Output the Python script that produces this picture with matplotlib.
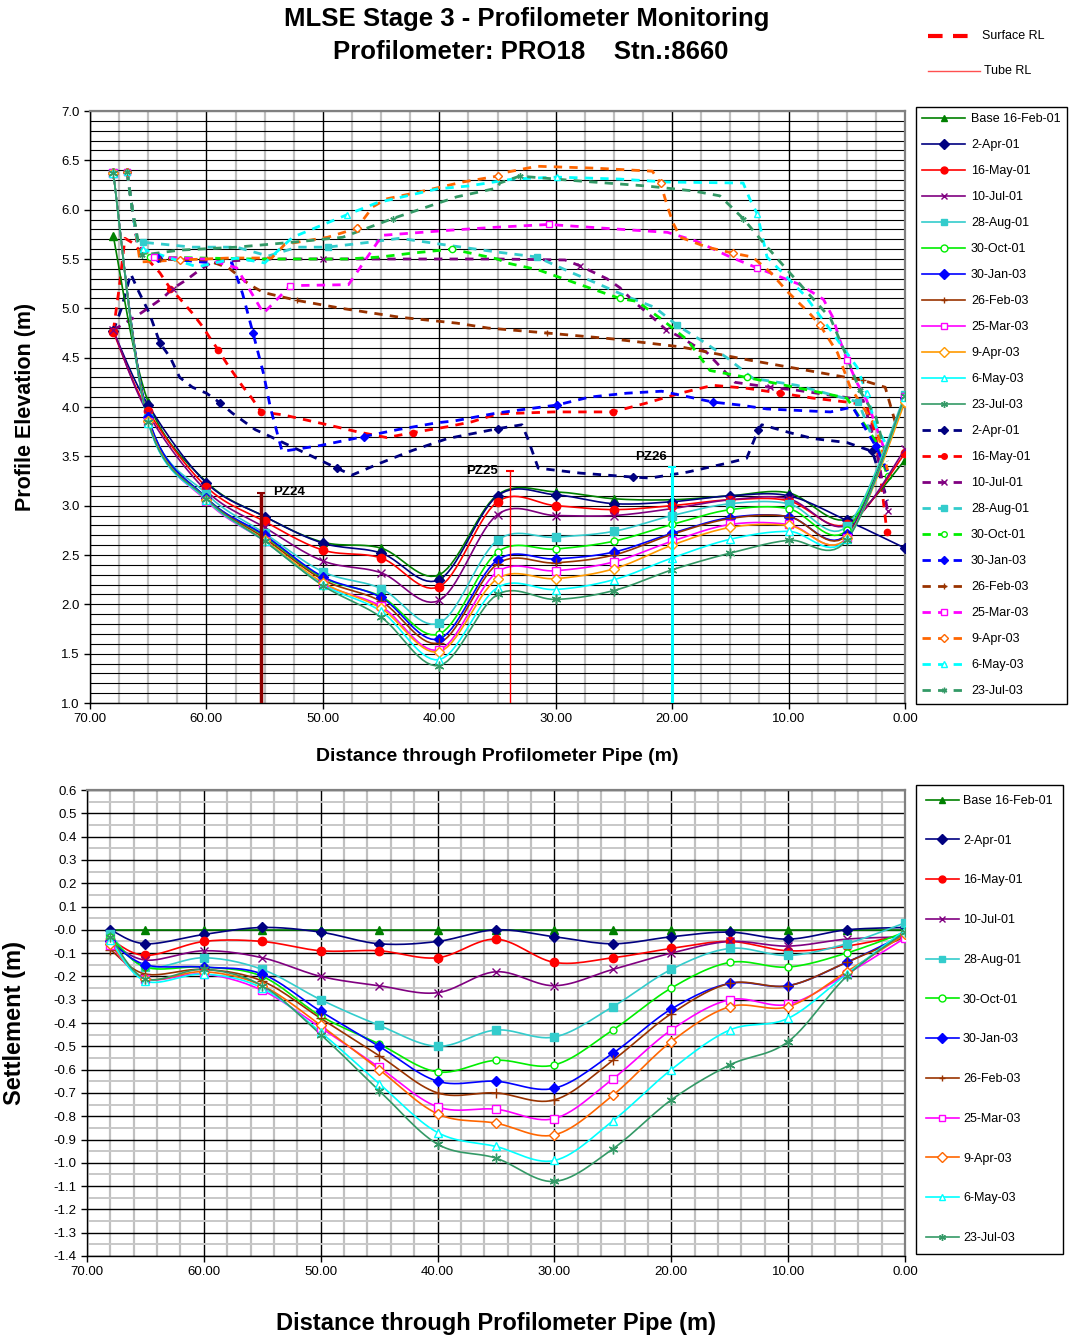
import numpy as np
import matplotlib
matplotlib.use("Agg")
import matplotlib.pyplot as plt
from matplotlib.lines import Line2D
from matplotlib.ticker import MultipleLocator, FormatStrFormatter

plt.rcParams["font.family"] = ["Liberation Sans", "DejaVu Sans"]
plt.rcParams["axes.unicode_minus"] = False

# --- data -------------------------------------------------------------------
dates = ["Base 16-Feb-01", "2-Apr-01", "16-May-01", "10-Jul-01", "28-Aug-01",
         "30-Oct-01", "30-Jan-03", "26-Feb-03", "25-Mar-03", "9-Apr-03",
         "6-May-03", "23-Jul-03"]

dist_pts = [68, 65, 60, 55, 50, 45, 40, 35, 30, 25, 20, 15, 10, 5, 0]

# Tube RL (m)
tube_feb01 = [5.73, 4.05, 3.24, 2.89, 2.63, 2.57, 2.30, 3.11, 3.14, 3.07, 3.06, 3.10, 3.13, 2.86, 3.46]
tube_apr01 = [4.77, 4.02, 3.23, 2.89, 2.62, 2.52, 2.25, 3.10, 3.11, 3.02, 3.04, 3.10, 3.10, 2.85, 2.57]
tube_may01 = [4.76, 3.96, 3.19, 2.84, 2.55, 2.47, 2.18, 3.04, 3.00, 2.96, 3.00, 3.06, 3.05, 2.81, 3.53]
tube_jul01 = [4.78, 3.93, 3.15, 2.78, 2.44, 2.32, 2.04, 2.91, 2.90, 2.90, 2.97, 3.06, 3.07, 2.80, 3.57]
tube_aug01 = [6.37, 3.89, 3.12, 2.72, 2.33, 2.16, 1.81, 2.65, 2.68, 2.74, 2.90, 3.02, 3.02, 2.79, 4.12]
tube_oct01 = [6.37, 3.89, 3.08, 2.69, 2.27, 2.08, 1.70, 2.53, 2.56, 2.64, 2.81, 2.96, 2.97, 2.75, 4.08]
tube_jan03 = [6.37, 3.90, 3.08, 2.70, 2.28, 2.07, 1.65, 2.45, 2.46, 2.53, 2.72, 2.88, 2.89, 2.71, 4.09]
tube_feb03 = [6.37, 3.86, 3.07, 2.67, 2.25, 2.03, 1.61, 2.41, 2.42, 2.50, 2.71, 2.87, 2.89, 2.70, 4.07]
tube_mar03 = [6.37, 3.85, 3.05, 2.64, 2.21, 1.98, 1.54, 2.33, 2.34, 2.43, 2.64, 2.81, 2.81, 2.67, 4.10]
tube_apr03 = [6.37, 3.86, 3.06, 2.65, 2.22, 1.96, 1.52, 2.26, 2.26, 2.36, 2.60, 2.78, 2.80, 2.67, 4.05]
tube_may03 = [6.37, 3.84, 3.06, 2.64, 2.20, 1.93, 1.44, 2.17, 2.15, 2.25, 2.47, 2.66, 2.74, 2.66, 4.10]
tube_jul03 = [6.37, 3.85, 3.07, 2.64, 2.19, 1.87, 1.38, 2.10, 2.05, 2.14, 2.35, 2.52, 2.65, 2.65, 4.11]

# Settlement (m)
settle_feb01 = [0.0, 0.0, 0.0, 0.0, 0.0, 0.0, 0.0, 0.0, 0.0, 0.0, 0.0, 0.0, 0.0, 0.0, 0.0]
settle_apr01 = [0.00, -0.06, -0.02, 0.01, -0.01, -0.06, -0.05, 0.00, -0.03, -0.06, -0.03, -0.01, -0.04, 0.00, 0.01]
settle_may01 = [-0.04, -0.11, -0.05, -0.05, -0.09, -0.09, -0.12, -0.04, -0.14, -0.12, -0.08, -0.05, -0.09, -0.07, -0.02]
settle_jul01 = [-0.05, -0.13, -0.09, -0.12, -0.20, -0.24, -0.27, -0.18, -0.24, -0.17, -0.10, -0.05, -0.07, -0.04, -0.03]
settle_aug01 = [-0.02, -0.16, -0.12, -0.17, -0.30, -0.41, -0.50, -0.43, -0.46, -0.33, -0.17, -0.08, -0.11, -0.06, 0.03]
settle_oct01 = [-0.03, -0.16, -0.16, -0.20, -0.37, -0.49, -0.61, -0.56, -0.58, -0.43, -0.25, -0.14, -0.16, -0.10, -0.01]
settle_jan03 = [-0.05, -0.15, -0.16, -0.19, -0.35, -0.50, -0.65, -0.65, -0.68, -0.53, -0.34, -0.23, -0.24, -0.14, -0.02]
settle_feb03 = [-0.085, -0.19, -0.17, -0.22, -0.38, -0.54, -0.70, -0.70, -0.73, -0.56, -0.36, -0.23, -0.24, -0.14, -0.03]
settle_mar03 = [-0.065, -0.21, -0.19, -0.26, -0.42, -0.59, -0.76, -0.77, -0.81, -0.64, -0.43, -0.30, -0.32, -0.19, -0.035]
settle_apr03 = [-0.06, -0.21, -0.18, -0.24, -0.41, -0.60, -0.79, -0.83, -0.88, -0.71, -0.48, -0.33, -0.33, -0.18, -0.02]
settle_may03 = [-0.045, -0.22, -0.19, -0.25, -0.44, -0.66, -0.87, -0.93, -0.99, -0.82, -0.60, -0.43, -0.38, -0.19, 0.00]
settle_jul03 = [-0.03, -0.21, -0.17, -0.24, -0.45, -0.69, -0.92, -0.98, -1.08, -0.94, -0.73, -0.58, -0.48, -0.20, -0.01]

# Surface RL (m) - distance / elevation per survey
surf_apr01_x = [68.0, 67.3, 66.5, 65.9, 64.9, 64.0, 63.1, 62.3, 61.2, 60.0, 58.8, 57.8, 55.8, 54.5, 51.1, 48.8, 47.5, 45.1, 42.3, 39.3, 35.0, 32.9, 32.4, 31.5, 27.9, 23.4, 21.9, 18.7, 15.3, 13.6, 12.6, 12.3, 9.9, 7.9, 5.0, 2.8, 1.5]
surf_apr01_y = [4.77, 5.00, 5.35, 5.19, 4.95, 4.65, 4.50, 4.30, 4.20, 4.14, 4.04, 3.94, 3.77, 3.70, 3.51, 3.38, 3.31, 3.43, 3.56, 3.68, 3.78, 3.82, 3.68, 3.38, 3.33, 3.29, 3.28, 3.34, 3.43, 3.48, 3.77, 3.82, 3.74, 3.68, 3.64, 3.55, 3.05]
surf_may01_x = [68.0, 67.5, 67.0, 66.3, 64.0, 63.1, 62.3, 61.2, 60.3, 59.7, 59.0, 58.3, 57.6, 56.9, 56.1, 55.3, 53.4, 49.6, 47.1, 44.5, 42.3, 39.3, 37.2, 35.0, 30.2, 25.1, 22.2, 19.3, 16.5, 13.6, 10.7, 7.9, 5.0, 3.3, 2.5, 1.55]
surf_may01_y = [4.77, 5.20, 5.71, 5.66, 5.36, 5.20, 5.10, 4.95, 4.81, 4.70, 4.58, 4.45, 4.33, 4.21, 4.09, 3.95, 3.92, 3.82, 3.75, 3.69, 3.74, 3.80, 3.85, 3.93, 3.95, 3.95, 4.04, 4.14, 4.22, 4.19, 4.14, 4.09, 4.05, 4.02, 3.70, 2.73]
surf_jul01_x = [68.0, 67.0, 65.9, 64.9, 63.7, 62.9, 61.7, 60.8, 59.5, 55.0, 50.0, 45.0, 40.0, 35.0, 29.2, 27.9, 25.6, 24.5, 23.4, 21.7, 20.5, 19.3, 18.2, 17.0, 14.6, 11.6, 9.3, 6.4, 3.6, 2.5, 1.5]
surf_jul01_y = [4.78, 4.85, 4.93, 5.01, 5.11, 5.20, 5.29, 5.37, 5.47, 5.50, 5.50, 5.50, 5.50, 5.50, 5.49, 5.43, 5.30, 5.21, 5.08, 4.91, 4.78, 4.71, 4.63, 4.55, 4.25, 4.20, 4.17, 4.12, 4.07, 3.60, 2.95]
surf_aug01_x = [66.8, 66.6, 66.3, 66.1, 65.9, 65.45, 61.2, 57.4, 54.7, 52.2, 49.6, 46.0, 43.4, 39.3, 35.0, 31.6, 28.8, 26.2, 23.9, 21.5, 19.6, 17.3, 15.3, 13.05, 9.3, 4.0, 2.5, 1.5]
surf_aug01_y = [6.38, 6.20, 5.95, 5.80, 5.68, 5.67, 5.62, 5.62, 5.53, 5.62, 5.62, 5.67, 5.71, 5.64, 5.57, 5.52, 5.37, 5.24, 5.12, 5.01, 4.83, 4.66, 4.50, 4.29, 4.22, 4.05, 3.60, 3.35]
surf_oct01_x = [66.8, 66.6, 66.3, 66.1, 65.9, 64.85, 56.0, 47.9, 45.1, 42.3, 38.9, 35.0, 34.2, 31.5, 27.9, 24.5, 23.0, 20.8, 18.7, 16.75, 13.6, 10.3, 7.0, 5.0, 2.5, 1.5]
surf_oct01_y = [6.38, 6.20, 5.95, 5.80, 5.66, 5.52, 5.50, 5.50, 5.52, 5.56, 5.60, 5.50, 5.46, 5.39, 5.24, 5.10, 5.07, 4.88, 4.68, 4.37, 4.30, 4.22, 4.14, 4.09, 3.65, 3.30]
surf_jan03_x = [66.8, 66.6, 66.3, 66.1, 65.9, 64.2, 62.3, 59.5, 57.8, 56.9, 56.0, 55.1, 54.5, 53.5, 50.2, 46.5, 43.6, 40.2, 38.65, 35.0, 29.9, 27.1, 23.9, 20.9, 19.3, 16.5, 14.2, 11.85, 6.4, 4.5, 2.5, 1.5]
surf_jan03_y = [6.38, 6.20, 5.95, 5.80, 5.62, 5.51, 5.49, 5.46, 5.46, 5.15, 4.75, 4.34, 3.99, 3.55, 3.61, 3.70, 3.77, 3.84, 3.86, 3.94, 4.02, 4.10, 4.14, 4.16, 4.12, 4.05, 4.02, 3.98, 3.95, 4.00, 3.60, 3.35]
surf_feb03_x = [66.8, 66.6, 66.3, 66.1, 65.9, 64.0, 60.0, 58.1, 56.3, 55.1, 52.2, 48.4, 43.4, 38.5, 35.8, 30.75, 25.1, 19.3, 13.6, 9.3, 3.6, 1.7, 0.7]
surf_feb03_y = [6.38, 6.20, 5.95, 5.80, 5.62, 5.50, 5.49, 5.41, 5.24, 5.16, 5.08, 5.00, 4.91, 4.85, 4.80, 4.75, 4.69, 4.61, 4.48, 4.39, 4.27, 4.20, 3.79]
surf_mar03_x = [66.8, 66.6, 66.3, 66.1, 65.9, 64.5, 60.0, 57.4, 55.1, 53.7, 52.8, 47.8, 44.9, 39.3, 35.4, 30.6, 25.6, 20.4, 17.9, 15.0, 12.7, 9.0, 7.0, 6.2, 5.6, 5.0, 4.1, 3.3, 1.8]
surf_mar03_y = [6.38, 6.20, 5.95, 5.80, 5.64, 5.52, 5.50, 5.41, 4.95, 5.12, 5.23, 5.24, 5.74, 5.79, 5.82, 5.85, 5.81, 5.77, 5.68, 5.52, 5.41, 5.24, 5.09, 4.91, 4.68, 4.48, 4.24, 4.07, 3.58]
surf_apr03_x = [66.8, 66.6, 66.3, 66.1, 65.7, 62.3, 58.0, 54.4, 53.25, 49.6, 47.1, 45.7, 44.5, 41.7, 38.0, 35.0, 34.2, 31.6, 26.5, 21.7, 21.0, 20.4, 19.9, 19.3, 17.0, 14.8, 13.1, 11.6, 10.1, 8.2, 7.3, 5.8, 4.7, 2.5, 1.5]
surf_apr03_y = [6.38, 6.20, 5.95, 5.80, 5.47, 5.49, 5.51, 5.51, 5.65, 5.72, 5.81, 6.03, 6.11, 6.18, 6.28, 6.34, 6.38, 6.44, 6.42, 6.39, 6.27, 6.03, 5.86, 5.72, 5.62, 5.56, 5.52, 5.37, 5.17, 4.95, 4.83, 4.55, 4.20, 3.80, 3.36]
surf_may03_x = [66.8, 66.6, 66.3, 66.1, 65.9, 65.45, 60.8, 57.4, 55.0, 52.6, 47.9, 45.35, 40.2, 37.5, 33.7, 29.9, 24.5, 20.5, 13.9, 13.3, 12.7, 11.85, 8.6, 6.4, 4.1, 3.3, 2.5, 1.5]
surf_may03_y = [6.38, 6.20, 5.95, 5.80, 5.68, 5.60, 5.42, 5.51, 5.46, 5.72, 5.95, 6.07, 6.21, 6.24, 6.31, 6.33, 6.31, 6.28, 6.27, 6.10, 5.96, 5.52, 5.13, 4.78, 4.40, 4.14, 3.80, 3.60]
surf_jul03_x = [66.8, 66.6, 66.3, 66.1, 65.9, 65.5, 62.3, 57.4, 52.6, 48.3, 44.0, 40.5, 38.5, 35.0, 34.8, 33.1, 27.9, 22.2, 18.2, 15.9, 13.9, 12.2, 9.9, 6.4, 5.0, 3.9, 2.5, 1.5]
surf_jul03_y = [6.38, 6.20, 5.95, 5.84, 5.70, 5.54, 5.59, 5.62, 5.67, 5.72, 5.91, 6.05, 6.13, 6.22, 6.27, 6.34, 6.29, 6.24, 6.19, 6.14, 5.91, 5.67, 5.36, 4.90, 4.51, 4.17, 3.90, 3.45]

# piezometers
pz_names = ["PZ24", "PZ25", "PZ26"]
pz_dist = [55.3, 33.9, 20.0]
pz_top = [3.13, 3.35, 3.39]

# --- styles -----------------------------------------------------------------
colors = ["#008000", "#000080", "#FF0000", "#800080", "#33CCCC", "#00EE00",
          "#0000FF", "#993300", "#FF00FF", "#FF9900", "#00FFFF", "#339966"]
surf_colors = colors[1:9] + ["#FF6600"] + colors[10:]
low_colors = colors[:9] + ["#FF6600"] + colors[10:]
markers = ["^", "D", "o", "x", "s", "o", "D", "+", "s", "D", "^", (6, 2, 0)]
filled = [True, True, True, False, True, False, True, False, False, False, False, False]
msizes = [6, 5, 6, 6, 6, 5, 5, 7, 6, 5, 6, 7]

tubes = [tube_feb01, tube_apr01, tube_may01, tube_jul01, tube_aug01, tube_oct01,
         tube_jan03, tube_feb03, tube_mar03, tube_apr03, tube_may03, tube_jul03]
settles = [settle_feb01, settle_apr01, settle_may01, settle_jul01, settle_aug01,
           settle_oct01, settle_jan03, settle_feb03, settle_mar03, settle_apr03,
           settle_may03, settle_jul03]
surf_x = [surf_apr01_x, surf_may01_x, surf_jul01_x, surf_aug01_x, surf_oct01_x,
          surf_jan03_x, surf_feb03_x, surf_mar03_x, surf_apr03_x, surf_may03_x, surf_jul03_x]
surf_y = [surf_apr01_y, surf_may01_y, surf_jul01_y, surf_aug01_y, surf_oct01_y,
          surf_jan03_y, surf_feb03_y, surf_mar03_y, surf_apr03_y, surf_may03_y, surf_jul03_y]

DASH = (0, (3.0, 2.6))


def smooth(xs, ys, n=14):
    """Catmull-Rom curve through the points (like Excel's smoothed line)."""
    pts = np.column_stack([xs, ys]).astype(float)
    P = np.vstack([pts[0], pts, pts[-1]])
    out = []
    t = np.linspace(0, 1, n, endpoint=False)[:, None]
    for i in range(1, len(P) - 2):
        p0, p1, p2, p3 = P[i - 1], P[i], P[i + 1], P[i + 2]
        out.append(0.5 * (2 * p1 + (-p0 + p2) * t + (2 * p0 - 5 * p1 + 4 * p2 - p3) * t ** 2
                          + (-p0 + 3 * p1 - 3 * p2 + p3) * t ** 3))
    out.append(pts[-1:])
    r = np.vstack(out)
    return r[:, 0], r[:, 1]


def mk(i, c, size=None):
    return dict(marker=markers[i], markersize=size or msizes[i], markeredgecolor=c,
                markerfacecolor=c if filled[i] else "white", markeredgewidth=1.0)


def style_axes(ax, xminor, ymajor, yminor):
    ax.set_xlim(70, 0)
    ax.xaxis.set_major_locator(MultipleLocator(10))
    ax.xaxis.set_minor_locator(MultipleLocator(xminor))
    ax.yaxis.set_major_locator(MultipleLocator(ymajor))
    ax.yaxis.set_minor_locator(MultipleLocator(yminor))
    ax.xaxis.set_major_formatter(FormatStrFormatter("%.2f"))
    ax.yaxis.set_major_formatter(FormatStrFormatter("%.1f"))
    ax.set_axisbelow(True)
    ax.grid(which="major", axis="x", color="black", lw=1.0)
    ax.grid(which="minor", axis="x", color="#C0C0C0", lw=1.6)
    ax.tick_params(which="major", direction="out", length=4, labelsize=9.5, width=1)
    ax.tick_params(which="minor", length=0)
    for s in ("top", "right"):
        ax.spines[s].set_color("#808080")
        ax.spines[s].set_linewidth(1.6)
    for s in ("left", "bottom"):
        ax.spines[s].set_color("black")
        ax.spines[s].set_linewidth(1.0)


W, H = 1072, 1335
fig = plt.figure(figsize=(W / 100, H / 100), dpi=100)

# --- top chart --------------------------------------------------------------
ax1 = fig.add_axes([90 / W, 1 - 703 / H, 815 / W, 592 / H])
style_axes(ax1, 2.5, 0.5, 0.1)
ax1.set_ylim(1.0, 7.0)
ax1.grid(which="both", axis="y", color="black", lw=0.8)

for i in range(11):
    c = surf_colors[i]
    ax1.plot(surf_x[i], surf_y[i], color=c, lw=2.0, ls=DASH, zorder=2)
    ax1.plot(surf_x[i][::5], surf_y[i][::5], ls="none", zorder=2.5, **mk(i + 1, c, 4.5))

for i in range(12):
    c = colors[i]
    sx, sy = smooth(dist_pts, tubes[i])
    ax1.plot(sx, sy, color=c, lw=1.2, zorder=3)
    ax1.plot(dist_pts, tubes[i], ls="none", zorder=4, **mk(i, c))

pz_colors = ["#8B0000", "#FF0000", "#00FFFF"]
pz_lw = [2.5, 1.0, 2.2]
for name, d, top, c, lw in zip(pz_names, pz_dist, pz_top, pz_colors, pz_lw):
    ax1.vlines(d, 1.0, top, color=c, lw=lw, zorder=5)
    ax1.hlines(top, d - 0.35, d + 0.35, color=c, lw=1.5, zorder=5)
ax1.text(54.3, 3.14, pz_names[0], fontsize=9.5, fontweight="bold", va="center", ha="left", zorder=6)
ax1.text(35.0, 3.35, pz_names[1], fontsize=9.5, fontweight="bold", va="center", ha="right", zorder=6)
ax1.text(23.2, 3.49, pz_names[2], fontsize=9.5, fontweight="bold", va="center", ha="left", zorder=6)

ax1.set_xlabel("Distance through Profilometer Pipe (m)", fontsize=14, fontweight="bold", labelpad=16)
ax1.set_ylabel("Profile Elevation (m)", fontsize=15.5, fontweight="bold", labelpad=18)

h_top = []
for i in range(12):
    h_top.append(Line2D([], [], color=colors[i], lw=1.2, **mk(i, colors[i], 5)))
for i in range(11):
    c = surf_colors[i]
    h_top.append(Line2D([], [], color=c, lw=2.0, ls=DASH, **mk(i + 1, c, 4)))
fig.legend(h_top, dates + dates[1:], loc="upper left", bbox_to_anchor=(916 / W, 1 - 107 / H),
           fontsize=9, frameon=True, fancybox=False, edgecolor="black", framealpha=1,
           borderaxespad=0, borderpad=0.5, handlelength=3.4, handletextpad=0.5,
           labelspacing=1.12, numpoints=1)

# --- bottom chart -----------------------------------------------------------
ax2 = fig.add_axes([87 / W, 1 - 1256 / H, 818 / W, 466 / H])
style_axes(ax2, 2, 0.1, 0.05)
ax2.set_ylim(-1.4, 0.6)
ax2.grid(which="major", axis="y", color="black", lw=1.0)
ax2.grid(which="minor", axis="y", color="#C8C8C8", lw=1.4)

for i in range(12):
    c = low_colors[i]
    sx, sy = smooth(dist_pts, settles[i])
    ax2.plot(sx, sy, color=c, lw=1.2, zorder=3)
    ax2.plot(dist_pts, settles[i], ls="none", zorder=4, **mk(i, c))

ax2.set_xlabel("Distance through Profilometer Pipe (m)", fontsize=17, fontweight="bold", labelpad=24)
ax2.set_ylabel("Settlement (m)", fontsize=17, fontweight="bold", labelpad=20)

h_low = [Line2D([], [], color=low_colors[i], lw=1.2, **mk(i, low_colors[i], 5)) for i in range(12)]
fig.legend(h_low, dates, loc="upper left", bbox_to_anchor=(916 / W, 1 - 785 / H),
           fontsize=9, frameon=True, fancybox=False, edgecolor="black", framealpha=1,
           borderaxespad=0, borderpad=0.8, handlelength=2.6, handletextpad=0.35,
           labelspacing=2.22, numpoints=1)

# --- titles and key ---------------------------------------------------------
fig.text(527 / W, 1 - 19 / H, "MLSE Stage 3 - Profilometer Monitoring",
         ha="center", va="center", fontsize=18.5, fontweight="bold")
fig.text(531 / W, 1 - 52 / H, "Profilometer: PRO18    Stn.:8660",
         ha="center", va="center", fontsize=18.5, fontweight="bold")

fig.add_artist(Line2D([928 / W, 973 / W], [1 - 36 / H, 1 - 36 / H], color="red",
                      lw=3, ls=(0, (3.5, 2.5))))
fig.text(982 / W, 1 - 36 / H, "Surface RL", fontsize=9, va="center")
fig.add_artist(Line2D([928 / W, 980 / W], [1 - 71 / H, 1 - 71 / H], color="#FF5050", lw=1))
fig.text(984 / W, 1 - 71 / H, "Tube RL", fontsize=9, va="center")

fig.savefig("out.png", dpi=100)
